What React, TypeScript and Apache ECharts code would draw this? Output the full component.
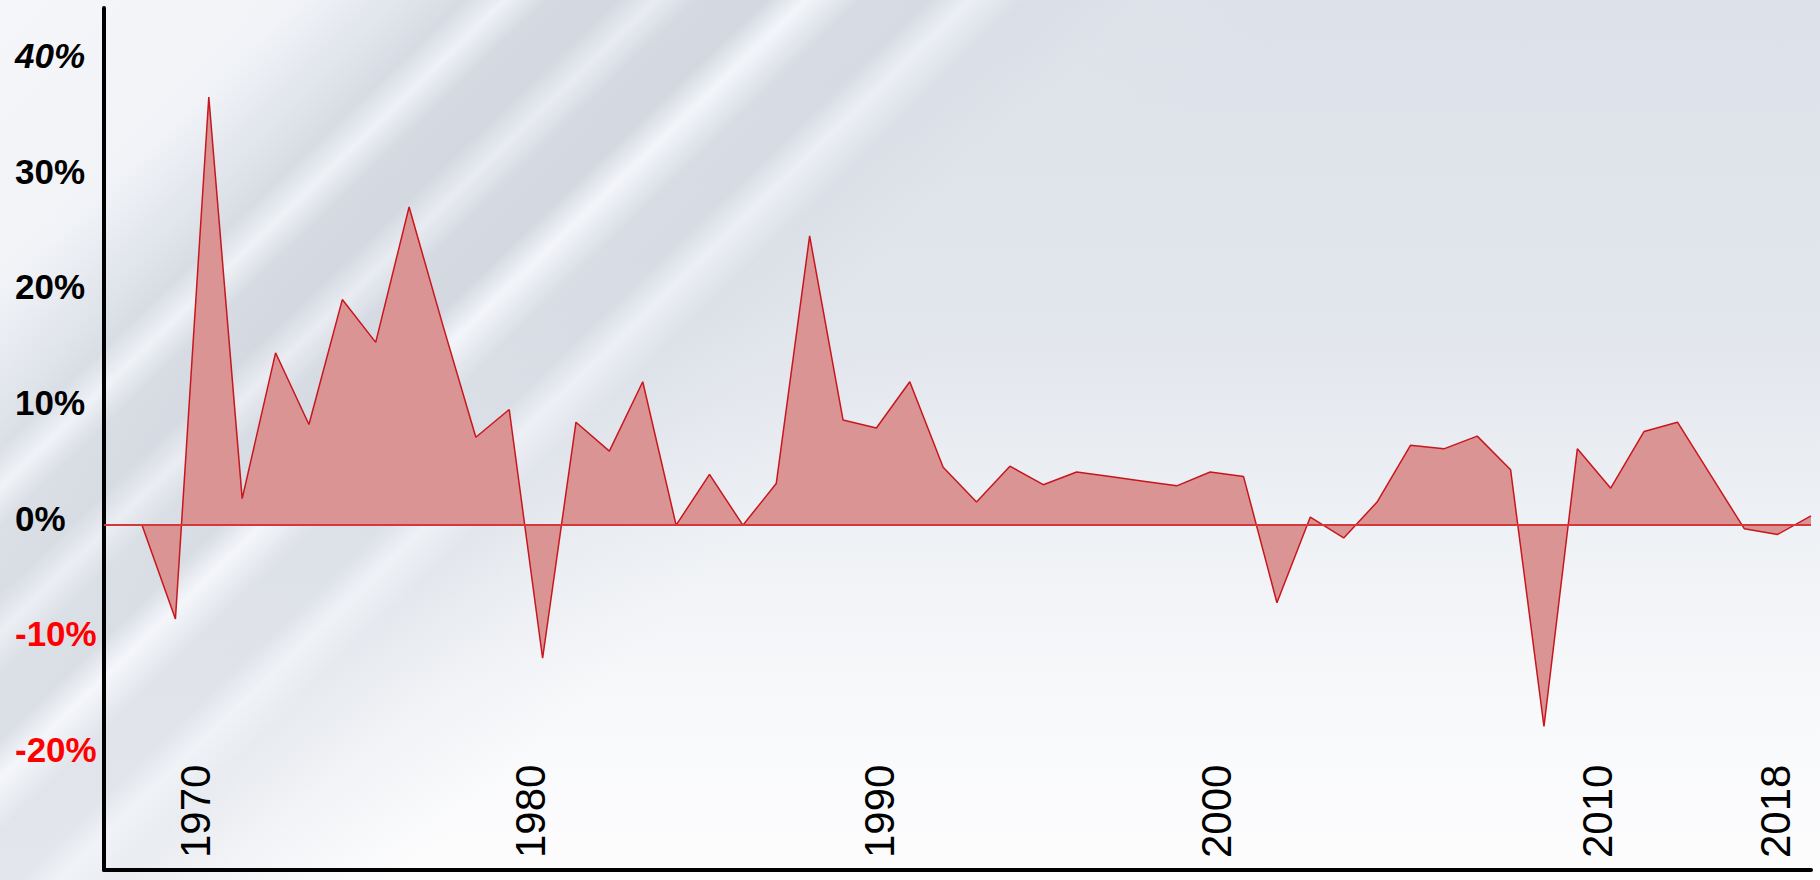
import React, { useEffect, useRef } from "react";
import * as echarts from "echarts";

// Years (categories) and annual change in %
const years = [
  1968, 1969, 1970, 1971, 1972, 1973, 1974, 1975, 1976, 1977,
  1978, 1979, 1980, 1981, 1982, 1983, 1984, 1985, 1986, 1987,
  1988, 1989, 1990, 1991, 1992, 1993, 1994, 1995, 1996, 1997,
  1998, 1999, 2000, 2001, 2002, 2003, 2004, 2005, 2006, 2007,
  2008, 2009, 2010, 2011, 2012, 2013, 2014, 2015, 2016, 2017,
  2018,
];
const changes = [
  0, -8.1, 37.0, 2.3, 14.9, 8.7, 19.5, 15.8, 27.5, 17.4,
  7.6, 10.0, -11.5, 8.9, 6.4, 12.4, 0, 4.4, 0, 3.6,
  25.0, 9.1, 8.4, 12.4, 5.0, 2.0, 5.1, 3.5, 4.6, 4.2,
  3.8, 3.4, 4.6, 4.2, -6.7, 0.7, -1.1, 2.0, 6.9, 6.6,
  7.7, 4.8, -17.4, 6.6, 3.2, 8.1, 8.9, 4.3, -0.3, -0.8,
  0.8,
];

// Axis tick labels
const yTickValues = [-20, -10, 0, 10, 20, 30, 40];
const xTickLabels = ["1970", "1980", "1990", "2000", "2010", "2018"];
// where each year label sits along the year axis in the original picture
const xTickAt = [1969.6, 1979.63, 1990.1, 2000.2, 2011.6, 2016.95];

const FONT = '"Liberation Sans", Arial, sans-serif';

export default function App() {
  const ref = useRef<HTMLDivElement>(null);

  useEffect(() => {
    document.body.style.margin = "0";
    const chart = echarts.init(ref.current as HTMLDivElement, null, {
      renderer: "svg",
    });
    chart.setOption({
      animation: false,
      backgroundColor: "transparent",
      grid: { left: 104, right: 9, top: 8, bottom: 10, containLabel: false },
      xAxis: {
        type: "value",
        min: 1966.86,
        max: 2018,
        axisLine: {
          show: true,
          onZero: false,
          lineStyle: { color: "#000", width: 4 },
        },
        axisTick: { show: false },
        splitLine: { show: false },
        axisLabel: {
          inside: true,
          rotate: 90,
          margin: 12,
          customValues: xTickAt,
          formatter: (v: number) => {
            let best = 0;
            for (let i = 1; i < xTickAt.length; i++) {
              if (Math.abs(xTickAt[i] - v) < Math.abs(xTickAt[best] - v)) best = i;
            }
            return xTickLabels[best];
          },
          fontSize: 42,
          fontFamily: FONT,
          color: "#000",
        },
      },
      yAxis: {
        type: "value",
        min: -29.8,
        max: 44.7,
        axisLine: { show: true, onZero: false, lineStyle: { color: "#000", width: 4 } },
        axisTick: { show: false },
        splitLine: { show: false },
        axisLabel: {
          customValues: yTickValues,
          align: "left",
          margin: 89,
          padding: [0, 0, 14, 0],
          fontSize: 35,
          fontWeight: "bold",
          fontFamily: FONT,
          formatter: (v: number) => {
            const t = Math.round(v) + "%";
            if (v < 0) return "{n|" + t + "}";
            if (v >= 40) return "{i|" + t + "}";
            return "{p|" + t + "}";
          },
          rich: {
            p: { color: "#000", fontSize: 35, fontWeight: "bold", fontFamily: FONT },
            i: {
              color: "#000",
              fontSize: 35,
              fontWeight: "bold",
              fontStyle: "italic",
              fontFamily: FONT,
            },
            n: { color: "#ff0000", fontSize: 35, fontWeight: "bold", fontFamily: FONT },
          },
        },
      },
      series: [
        {
          type: "line",
          data: years.map((y, i) => [y, changes[i]]),
          symbol: "none",
          lineStyle: { color: "#c8161d", width: 1.5 },
          areaStyle: { color: "#da9494", opacity: 1, origin: 0 },
          markLine: {
            silent: true,
            symbol: ["none", "none"],
            label: { show: false },
            lineStyle: { color: "#d2383c", width: 2, type: "solid" },
            data: [{ yAxis: 0 }],
          },
        },
      ],
    });
    return () => chart.dispose();
  }, []);

  const bg =
    "linear-gradient(136deg," +
    "rgba(246,247,250,0.97) 0%," +
    "rgba(242,244,248,0.92) 11%," +
    "rgba(228,232,238,0.6) 14.5%," +
    "rgba(212,217,225,0.7) 17%," +
    "rgba(240,243,247,0.9) 18.5%," +
    "rgba(210,215,223,0.7) 20%," +
    "rgba(206,211,220,0.7) 22.5%," +
    "rgba(234,237,242,0.85) 24%," +
    "rgba(209,214,223,0.7) 25.5%," +
    "rgba(206,211,220,0.7) 28%," +
    "rgba(244,246,250,0.95) 29.5%," +
    "rgba(212,217,225,0.65) 31.5%," +
    "rgba(209,214,223,0.6) 34%," +
    "rgba(238,241,246,0.85) 35.5%," +
    "rgba(215,220,228,0.5) 37.5%," +
    "rgba(224,228,235,0.3) 42%," +
    "rgba(235,238,243,0) 48%)," +
    "linear-gradient(180deg, #dde2ea 0%, #e1e5ec 35%, #edf0f4 58%, #f7f8fa 78%, #fdfdfe 100%)";

  return (
    <div
      style={{
        position: "fixed",
        left: 0,
        top: 0,
        width: 1820,
        height: 880,
        background: bg,
      }}
    >
      <div ref={ref} style={{ width: 1820, height: 880 }} />
    </div>
  );
}
